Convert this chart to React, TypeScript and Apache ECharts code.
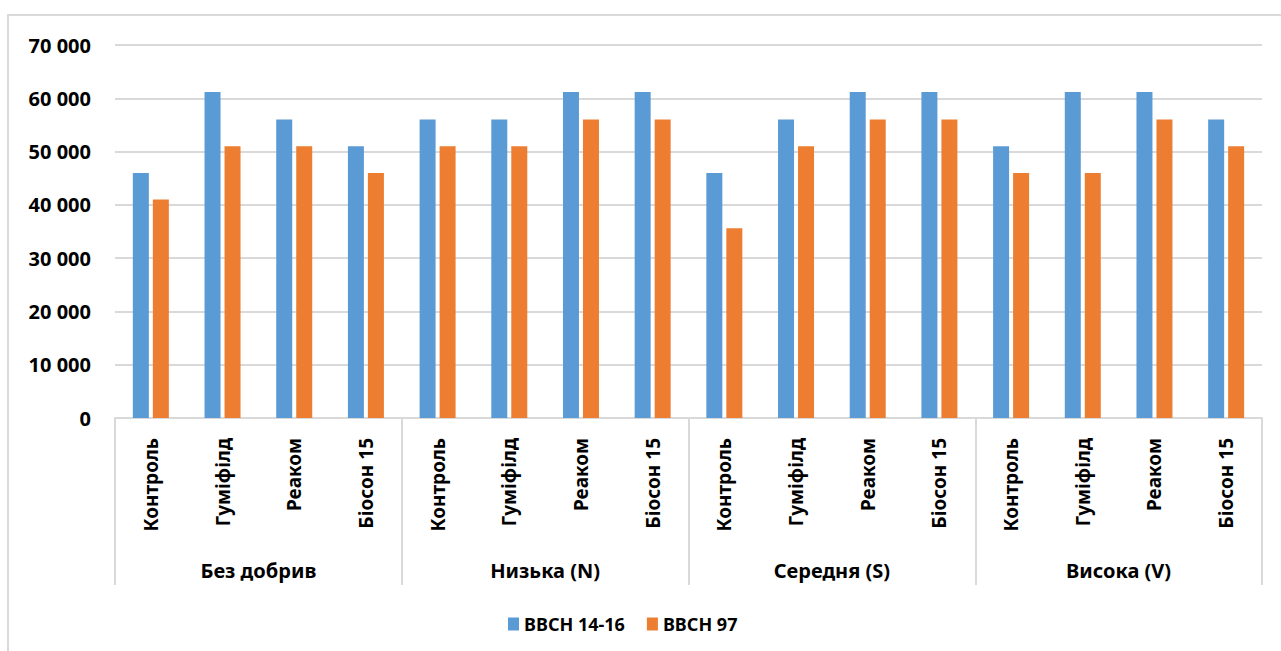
import React, { useEffect, useRef } from "react";
import * as echarts from "echarts";

const groups = ["Без добрив", "Низька (N)", "Середня (S)", "Висока (V)"];
const treatments = ["Контроль", "Гуміфілд", "Реаком", "Біосон 15"];
const categories = groups.flatMap(() => treatments);
const seriesNames = ["BBCH 14-16", "BBCH 97"];
const bbch1416 = [
  46000, 61200, 56000, 51000,
  56000, 56000, 61200, 61200,
  46000, 56000, 61200, 61200,
  51000, 61200, 61200, 56000,
];
const bbch97 = [
  41000, 51000, 51000, 46000,
  51000, 51000, 56000, 56000,
  35600, 51000, 56000, 56000,
  46000, 46000, 56000, 51000,
];

const FONT = "'Noto Sans', sans-serif";

export default function App() {
  const ref = useRef<HTMLDivElement>(null);
  useEffect(() => {
    if (!ref.current) return;
    const chart = echarts.init(ref.current, null, { renderer: "svg" });
    chart.setOption({
      animation: false,
      backgroundColor: "#ffffff",
      textStyle: { fontFamily: FONT },
      graphic: [
        {
          type: "rect",
          shape: { x: 8, y: 15, width: 1300, height: 700 },
          style: { fill: "none", stroke: "#d9d9d9", lineWidth: 2 },
          silent: true,
        },
      ],
      legend: {
        left: 503,
        top: 610,
        itemWidth: 11,
        itemHeight: 13,
        itemGap: 22,
        icon: "rect",
        textStyle: { fontSize: 18, fontWeight: "bold", color: "#000", fontFamily: FONT },
        data: seriesNames,
      },
      grid: { left: 115, right: 19, top: 45, bottom: 233, containLabel: false },
      xAxis: [
        {
          type: "category",
          data: categories,
          axisLine: { show: true, lineStyle: { color: "#d9d9d9", width: 2 } },
          axisTick: { show: false },
          axisLabel: {
            interval: 0,
            rotate: 90,
            margin: 20,
            fontSize: 19,
            fontWeight: "bold",
            color: "#000",
            fontFamily: FONT,
          },
        },
        {
          type: "category",
          position: "bottom",
          data: groups,
          axisLine: { show: false },
          axisTick: {
            show: true,
            interval: 0,
            length: 167,
            lineStyle: { color: "#d9d9d9", width: 2 },
          },
          axisLabel: {
            interval: 0,
            margin: 142,
            fontSize: 20,
            fontWeight: "bold",
            color: "#000",
            fontFamily: FONT,
          },
        },
      ],
      yAxis: {
        type: "value",
        min: 0,
        max: 70000,
        interval: 10000,
        axisLine: { show: false },
        axisTick: { show: false },
        splitLine: { lineStyle: { color: "#d9d9d9", width: 2 } },
        axisLabel: {
          margin: 24,
          fontSize: 20,
          fontWeight: "bold",
          color: "#000",
          fontFamily: FONT,
          formatter: (v: number) =>
            String(v).replace(/\B(?=(\d{3})+(?!\d))/g, " "),
        },
      },
      series: [
        {
          name: seriesNames[0],
          type: "bar",
          data: bbch1416,
          barWidth: 16,
          barGap: "25%",
          itemStyle: { color: "#5b9bd5" },
        },
        {
          name: seriesNames[1],
          type: "bar",
          data: bbch97,
          barWidth: 16,
          barGap: "25%",
          itemStyle: { color: "#ed7d31" },
        },
      ],
    });
    return () => chart.dispose();
  }, []);
  return (
    <div
      ref={ref}
      style={{ position: "fixed", left: 0, top: 0, width: 1281, height: 651 }}
    />
  );
}
